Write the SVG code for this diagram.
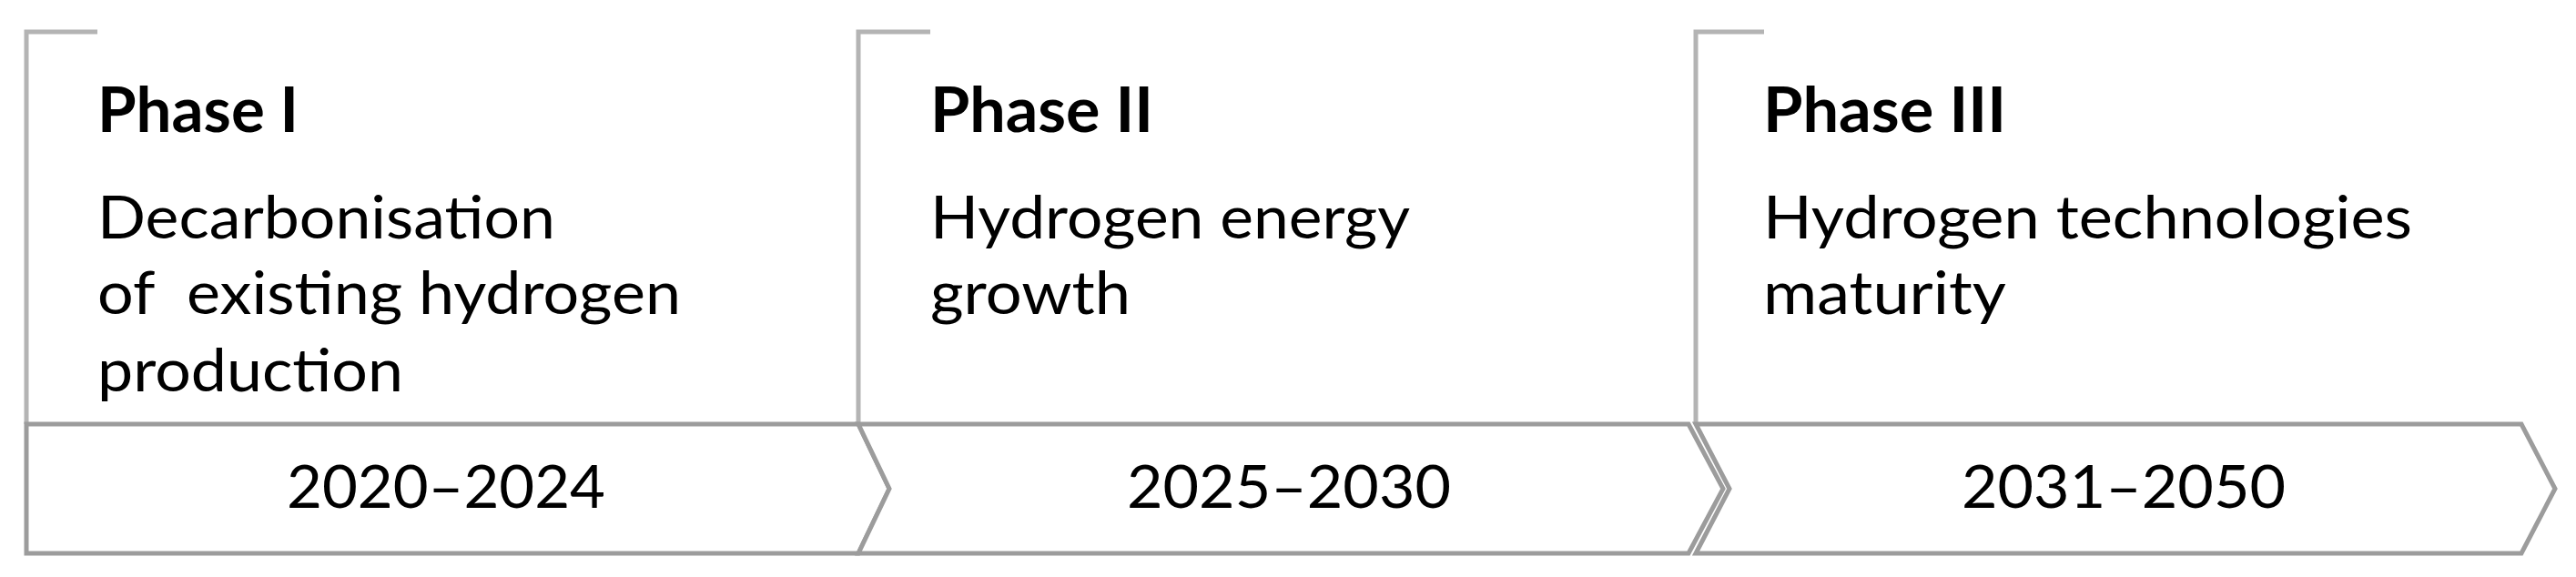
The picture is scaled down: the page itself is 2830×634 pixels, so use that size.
<svg xmlns="http://www.w3.org/2000/svg" width="2830" height="634" viewBox="0 0 2830 634">
<style>
.bracket{fill:none;stroke:#b4b4b4;stroke-width:5;stroke-linecap:butt;stroke-linejoin:miter}
.band{fill:#ffffff;stroke:#9c9c9c;stroke-width:5;stroke-linejoin:miter}
.head{font-family:Lato,"Open Sans","Liberation Sans",sans-serif;font-weight:bold;font-size:68px;fill:#000}
.body{font-family:Lato,"Open Sans","Liberation Sans",sans-serif;font-size:66px;fill:#000}
.date{font-family:Lato,"Open Sans","Liberation Sans",sans-serif;font-size:66px;fill:#000;text-anchor:middle}
</style>
<rect width="2830" height="634" fill="#ffffff"/>
<g id="phase1">
  <path class="bracket" d="M29,466 V35 H107"/>
  <text class="head" x="107" y="145" textLength="221" lengthAdjust="spacingAndGlyphs">Phase I</text>
  <text class="body" x="107" y="262" textLength="503" lengthAdjust="spacingAndGlyphs">Decarbonisation</text>
  <text class="body" x="107" y="345" textLength="641" lengthAdjust="spacingAndGlyphs" xml:space="preserve">of  existing hydrogen</text>
  <text class="body" x="107" y="430" textLength="336" lengthAdjust="spacingAndGlyphs">production</text>
</g>
<g id="phase2">
  <path class="bracket" d="M943,466 V35 H1022"/>
  <text class="head" x="1022" y="145" textLength="245" lengthAdjust="spacingAndGlyphs">Phase II</text>
  <text class="body" x="1022" y="262" textLength="527" lengthAdjust="spacingAndGlyphs">Hydrogen energy</text>
  <text class="body" x="1022" y="345" textLength="220" lengthAdjust="spacingAndGlyphs">growth</text>
</g>
<g id="phase3">
  <path class="bracket" d="M1863,466 V35 H1938"/>
  <text class="head" x="1937" y="145" textLength="267" lengthAdjust="spacingAndGlyphs">Phase III</text>
  <text class="body" x="1937" y="262" textLength="713" lengthAdjust="spacingAndGlyphs">Hydrogen technologies</text>
  <text class="body" x="1937" y="345" textLength="267" lengthAdjust="spacingAndGlyphs">maturity</text>
</g>
<g id="connectors">
  <path id="band1" class="band" d="M29,466 H943 L977,537 L943,608 H29 Z"/>
  <path id="band2" class="band" d="M943,466 H1855 L1893,537 L1855,608 H943 L977,537 Z"/>
  <path id="band3" class="band" d="M1863,466 H2770 L2807,537 L2770,608 H1863 L1900,537 Z"/>
</g>
<g id="dates">
  <text class="date" x="490" y="558" textLength="350" lengthAdjust="spacingAndGlyphs">2020–2024</text>
  <text class="date" x="1416" y="558" textLength="356" lengthAdjust="spacingAndGlyphs">2025–2030</text>
  <text class="date" x="2333" y="558" textLength="356" lengthAdjust="spacingAndGlyphs">2031–2050</text>
</g>
</svg>
